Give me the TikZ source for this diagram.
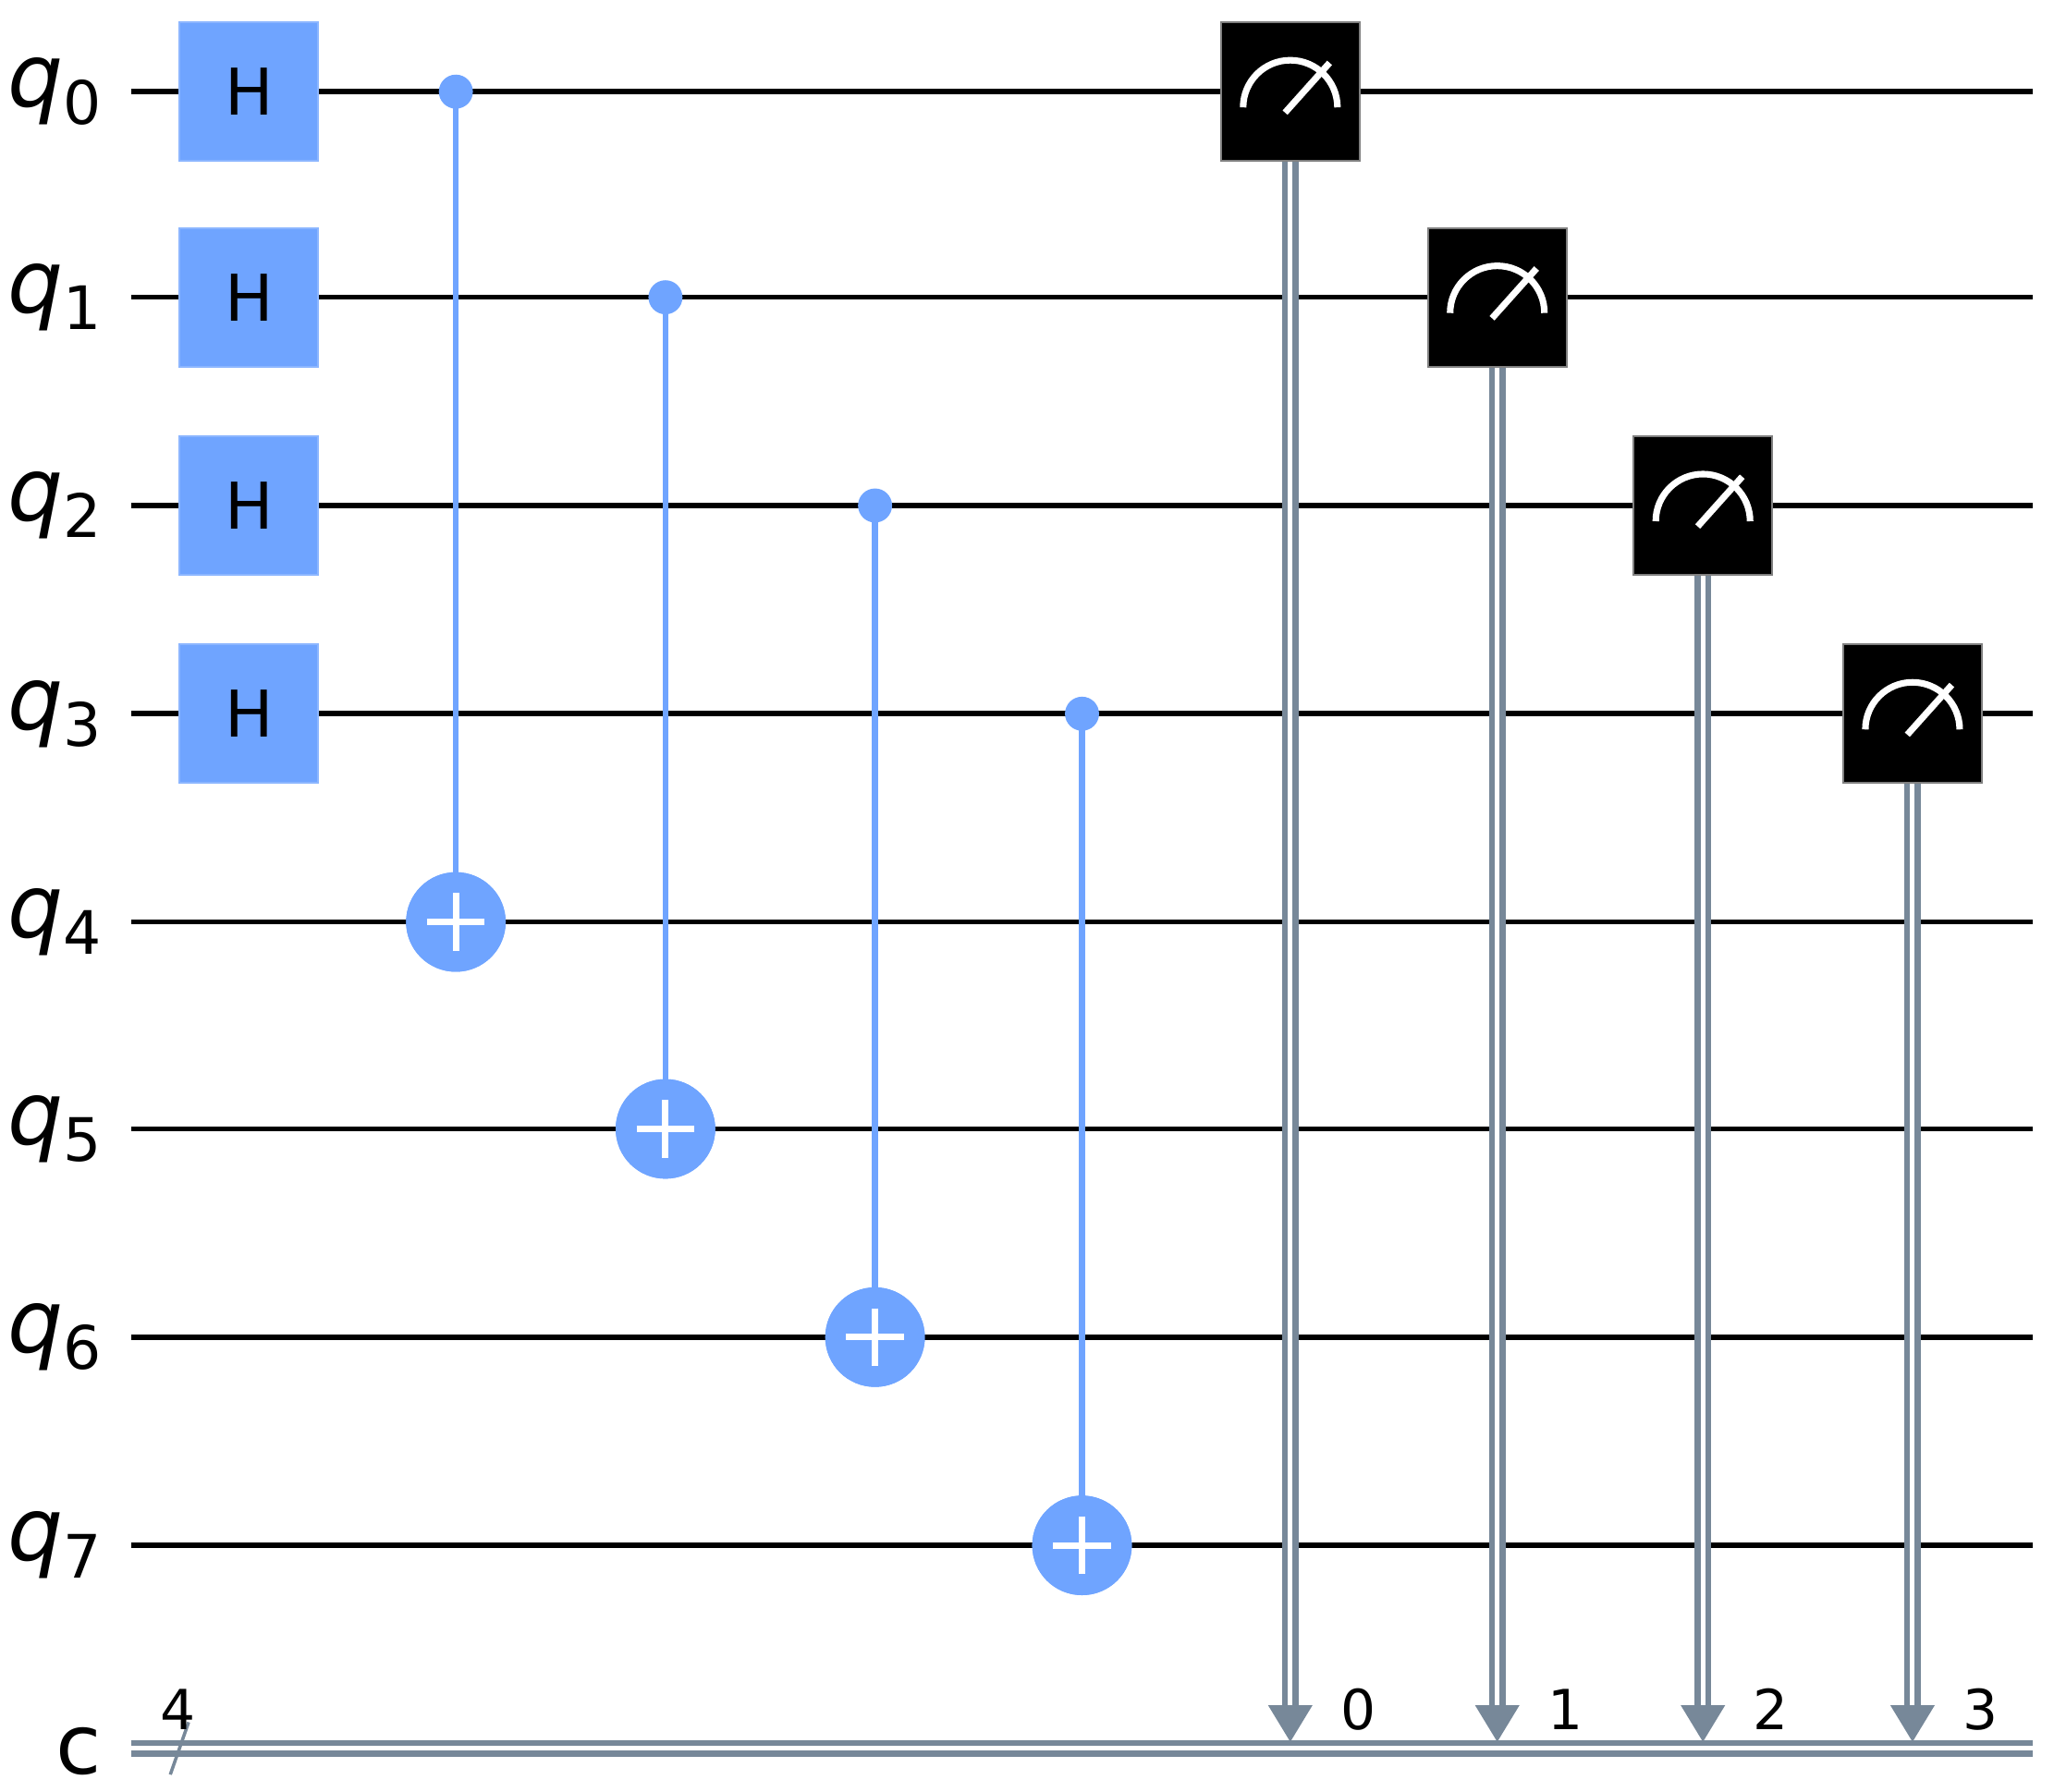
\documentclass[tikz,border=0pt]{standalone}
\usepackage{fontspec}
\setmainfont{DejaVu Sans}
\usetikzlibrary{calc}
\definecolor{qblue}{HTML}{6FA4FF}
\definecolor{cgray}{HTML}{778899}
\begin{document}
\begin{tikzpicture}[x=0.01cm,y=-0.01cm,
  wire/.style={line width=0.04cm,black},
  hgate/.style={fill=qblue,draw=qblue!80!white,minimum size=1.06cm,inner sep=0,font=\fontsize{14}{14}\selectfont},
  ctrl/.style={circle,fill=qblue,minimum size=0.26cm,inner sep=0},
  targ/.style={circle,fill=qblue,minimum size=0.76cm,inner sep=0},
  meas/.style={fill=black,draw=gray,minimum size=1.06cm,inner sep=0},
  cl/.style={draw=cgray,double=white,double distance=0.035cm,line width=0.045cm},
  qlab/.style={font=\fontsize{19}{19}\selectfont},
  small/.style={font=\fontsize{12}{12}\selectfont}]
\useasboundingbox (0,0) rectangle (1568,1368);
% wires
\foreach \i/\y in {0/70,1/227,2/386,3/545,4/704,5/862,6/1021,7/1180}{
  \node[qlab] (l\i) at (42,\y) {\textit{q}\raisebox{-0.35ex}{\fontsize{13}{13}\selectfont\i}};
  \coordinate (ws\i) at (100,\y);
  \coordinate (we\i) at (1552,\y);
  \draw[wire] (ws\i) -- (we\i);
}
\node[font=\fontsize{18}{18}\selectfont] (lc) at (60,1337) {c};
\coordinate (cs) at (100,1335);
\coordinate (ce) at (1552,1335);
\draw[cl] (cs) -- (ce);
\coordinate (sl1) at (130,1355); \coordinate (sl2) at (144,1315);
\draw[cgray,line width=0.025cm] (sl1) -- (sl2);
\node[small] (n4) at (136,1305) {4};
% H gates
\foreach \i/\y in {0/70,1/227,2/386,3/545}{
  \node[hgate] (h\i) at (190,\y) {H};
}
% CNOTs
\foreach \c/\t/\x/\yc/\yt in {0/4/348/70/704,1/5/508/227/862,2/6/668/386/1021,3/7/826/545/1180}{
  \node[ctrl] (c\c) at (\x,\yc) {};
  \node[targ] (t\t) at (\x,\yt) {};
  \draw[qblue,line width=0.045cm] (c\c.center) -- (t\t.center);
  \node[targ] at (t\t) {};
  \draw[white,line width=0.05cm] ($(t\t)+(-22,0)$) -- ($(t\t)+(22,0)$) ($(t\t)+(0,-22)$) -- ($(t\t)+(0,22)$);
}
% measurements
\foreach \k/\x/\y in {0/985/70,1/1143/227,2/1300/386,3/1460/545}{
  \coordinate (ct\k) at (\x,1330);
  \draw[cl] (\x,\y) -- ($(ct\k)+(0,-20)$);
  \fill[cgray] ($(ct\k)+(-17,-28)$) -- ($(ct\k)+(17,-28)$) -- (ct\k) -- cycle;
  \node[meas] (m\k) at (\x,\y) {};
  \draw[white,line width=0.05cm] ($(m\k)+(-36,12)$) arc[start angle=180,end angle=360,radius=36];
  \draw[white,line width=0.05cm] ($(m\k)+(-4,16)$) -- ($(m\k)+(30,-22)$);
  \node[small] (b\k) at (\x+52,1305) {\k};
}
\end{tikzpicture}
\end{document}
